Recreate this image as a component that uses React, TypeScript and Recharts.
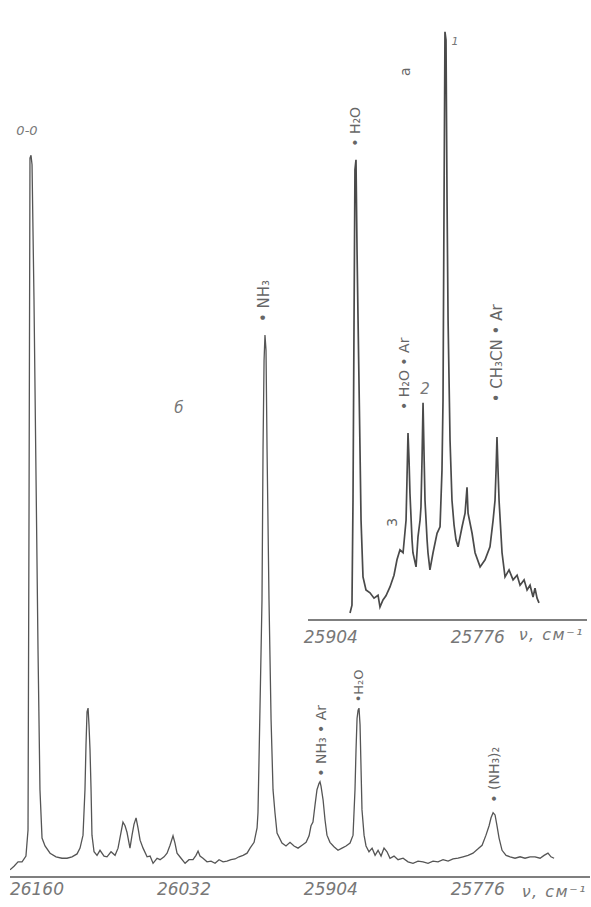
import React from 'react'
import { LineChart, Line, XAxis, YAxis, ReferenceDot, Label } from 'recharts'

// main spectrum (б): wavenumber, cm-1 and relative intensity
const MAIN_WAVENUMBER = [
  26183.5, 26180.0, 26176.5, 26173.0, 26169.6, 26167.8, 26166.9, 26166.1, 26165.2, 26164.3,
  26162.6, 26160.8, 26159.1, 26157.4, 26155.6, 26153.0, 26148.6, 26143.4, 26138.2, 26133.8,
  26129.5, 26125.1, 26122.5, 26119.9, 26118.2, 26117.3, 26116.4, 26115.5, 26114.7, 26113.8,
  26112.9, 26112.1, 26110.3, 26107.7, 26105.1, 26101.6, 26099.0, 26095.5, 26092.0, 26089.4,
  26086.8, 26085.1, 26083.3, 26081.6, 26079.0, 26077.2, 26075.5, 26073.7, 26072.0, 26070.2,
  26067.6, 26064.1, 26061.5, 26058.9, 26055.4, 26052.8, 26049.3, 26046.7, 26044.1, 26041.5,
  26039.8, 26038.0, 26034.5, 26031.0, 26027.6, 26024.1, 26021.5, 26019.7, 26018.0, 26015.4,
  26011.9, 26008.4, 26004.9, 26001.4, 25997.9, 25994.5, 25991.0, 25987.5, 25984.0, 25980.5,
  25977.0, 25974.4, 25970.9, 25968.3, 25967.5, 25966.6, 25964.8, 25964.0, 25963.1, 25962.2,
  25961.4, 25960.5, 25959.6, 25957.9, 25956.1, 25954.4, 25952.7, 25950.9, 25946.6, 25943.1,
  25939.6, 25936.1, 25932.6, 25929.1, 25925.6, 25923.0, 25921.3, 25919.6, 25917.8, 25916.1,
  25914.3, 25913.5, 25912.6, 25910.8, 25909.1, 25907.4, 25904.8, 25901.3, 25897.8, 25894.3,
  25890.8, 25887.3, 25884.7, 25883.0, 25882.1, 25881.2, 25880.3, 25879.5, 25878.6, 25877.7,
  25876.9, 25875.1, 25873.4, 25870.8, 25868.1, 25865.5, 25862.9, 25860.3, 25857.7, 25855.1,
  25852.5, 25849.0, 25845.5, 25841.1, 25836.8, 25832.5, 25828.1, 25823.7, 25819.4, 25815.0,
  25810.7, 25806.3, 25801.9, 25797.6, 25793.2, 25788.9, 25784.5, 25780.2, 25775.8, 25772.3,
  25768.9, 25766.2, 25764.5, 25762.7, 25761.0, 25759.3, 25757.5, 25754.9, 25751.4, 25747.9,
  25743.6, 25739.2, 25734.9, 25730.5, 25726.2, 25721.8, 25718.3, 25714.9, 25712.3, 25709.6,
]
const MAIN_INTENSITY = [
  1.0, 1.5, 2.1, 2.1, 2.9, 6.5, 52.2, 99.6, 100.0, 98.7,
  80.0, 55.0, 31.5, 12.1, 5.4, 4.3, 3.3, 2.8, 2.6, 2.6,
  2.8, 3.2, 4.0, 5.8, 12.1, 18.3, 22.9, 23.4, 21.1, 17.6,
  12.1, 5.8, 3.5, 3.0, 3.7, 2.9, 2.8, 3.5, 3.0, 4.0,
  6.2, 7.6, 7.1, 6.2, 4.0, 5.8, 7.3, 8.2, 6.8, 5.1,
  4.0, 2.8, 2.9, 1.9, 2.6, 2.4, 2.8, 3.3, 4.4, 5.7,
  4.7, 3.3, 2.6, 1.9, 2.4, 2.4, 3.0, 3.6, 2.9, 2.6,
  2.1, 2.2, 1.9, 2.4, 2.1, 2.2, 2.4, 2.5, 2.8, 3.0,
  3.3, 4.0, 4.8, 6.8, 8.9, 16.2, 31.5, 38.4, 59.2, 71.6,
  75.1, 73.0, 59.2, 38.4, 21.8, 12.1, 8.9, 6.1, 4.7, 4.3,
  4.8, 4.3, 4.0, 4.4, 4.8, 5.7, 7.1, 7.6, 10.0, 12.1,
  13.0, 13.2, 12.6, 10.7, 7.9, 5.8, 4.8, 4.2, 3.7, 4.0,
  4.3, 4.7, 5.8, 12.1, 17.6, 22.0, 23.1, 23.4, 21.1, 14.8,
  9.3, 5.8, 4.3, 3.5, 4.0, 3.0, 3.7, 2.9, 4.0, 3.5,
  2.6, 2.9, 2.4, 2.6, 2.1, 1.9, 2.2, 2.1, 1.9, 2.2,
  2.1, 2.4, 2.2, 2.5, 2.6, 2.8, 3.0, 3.3, 3.9, 4.4,
  5.8, 7.1, 8.2, 8.9, 8.6, 7.1, 5.4, 3.7, 3.0, 2.8,
  2.6, 2.8, 2.6, 2.8, 2.8, 2.6, 3.0, 3.3, 2.8, 2.6,
]

// inset spectrum (а)
const INSET_WAVENUMBER = [
  25887.3, 25885.6, 25884.7, 25883.8, 25883.0, 25882.1, 25881.2, 25880.3, 25878.6, 25877.7,
  25876.0, 25873.4, 25869.9, 25866.4, 25862.9, 25861.2, 25858.6, 25856.0, 25852.5, 25849.0,
  25846.4, 25843.8, 25841.1, 25838.5, 25837.7, 25836.8, 25835.9, 25835.1, 25833.3, 25832.5,
  25829.8, 25828.1, 25826.3, 25825.5, 25824.6, 25823.7, 25822.9, 25822.0, 25820.2, 25819.4,
  25817.7, 25815.0, 25811.5, 25808.9, 25807.2, 25806.3, 25805.4, 25804.6, 25803.7, 25802.8,
  25801.9, 25800.2, 25798.5, 25796.7, 25795.0, 25793.2, 25789.7, 25787.1, 25785.4, 25784.5,
  25781.0, 25778.4, 25774.0, 25769.7, 25765.4, 25762.7, 25761.0, 25760.1, 25759.3, 25758.4,
  25757.5, 25754.9, 25752.3, 25748.8, 25745.3, 25741.8, 25739.2, 25735.7, 25733.1, 25730.5,
  25727.9, 25726.2, 25724.4, 25722.7,
]
const INSET_INTENSITY = [
  1.2, 2.5, 20.3, 50.8, 76.3, 78.0, 62.7, 50.8, 28.8, 16.9,
  7.3, 5.1, 4.6, 3.7, 4.2, 2.2, 3.4, 4.1, 5.6, 7.6,
  10.2, 11.9, 11.4, 16.9, 23.7, 31.7, 27.1, 21.5, 13.6, 11.4,
  9.0, 14.1, 16.9, 19.2, 27.1, 36.8, 28.8, 20.3, 13.6, 11.4,
  8.5, 11.4, 14.7, 15.8, 25.4, 37.3, 71.2, 99.7, 98.3, 71.2,
  50.8, 30.5, 20.3, 16.1, 13.6, 12.4, 15.8, 18.1, 22.5, 18.1,
  14.7, 11.4, 9.0, 10.2, 12.4, 16.9, 20.3, 25.4, 31.0, 25.4,
  20.3, 11.4, 7.3, 8.5, 6.8, 7.6, 5.9, 6.8, 5.1, 5.9,
  3.9, 5.4, 3.7, 2.9,
]

const MAIN_TICKS = [26160, 26032, 25904, 25776]
const INSET_TICKS = [25904, 25776]

// band labels: where they sit (wavenumber, level) and their text
const MAIN_NOTES = [
  { wn: 26168.7, level: 103.4, text: '0-0', vertical: false, size: 13 },
  { wn: 26036.3, level: 65.0, text: 'б', vertical: false, size: 15 },
  { wn: 25962.2, level: 76.9, text: '• NH₃', vertical: true, size: 15 },
  { wn: 25912.6, level: 13.9, text: '• NH₃ • Ar', vertical: true, size: 14 },
  { wn: 25879.5, level: 24.2, text: '•H₂O', vertical: true, size: 13 },
  { wn: 25761.9, level: 10.3, text: '• (NH₃)₂', vertical: true, size: 14 },
]
const INSET_NOTES = [
  { wn: 25883.0, level: 80.2, text: '• H₂O', vertical: true, size: 14 },
  { wn: 25839.4, level: 92.2, text: 'а', vertical: true, size: 14 },
  { wn: 25795.8, level: 98.0, text: '1', vertical: false, size: 11 },
  { wn: 25840.3, level: 35.6, text: '• H₂O • Ar', vertical: true, size: 14 },
  { wn: 25822.0, level: 39.2, text: '2', vertical: false, size: 15 },
  { wn: 25850.7, level: 15.8, text: '3', vertical: true, size: 14 },
  { wn: 25759.3, level: 36.9, text: '• CH₃CN • Ar', vertical: true, size: 15 },
]

const INK = '#555'
const FONT = '"DejaVu Sans", sans-serif'

const mainData = MAIN_WAVENUMBER.map((wn, i) => ({ wn, v: MAIN_INTENSITY[i] }))
const insetData = INSET_WAVENUMBER.map((wn, i) => ({ wn, v: INSET_INTENSITY[i] }))

type Note = { wn: number; level: number; text: string; vertical: boolean; size: number }

const noteLabel = (n: Note) => (props: any) => {
  const vb = props.viewBox || {}
  const x = vb.x + (vb.width || 0) / 2
  const y = vb.y + (vb.height || 0) / 2
  if (n.vertical) {
    return (
      <text
        x={x}
        y={y}
        transform={`rotate(-90 ${x} ${y})`}
        textAnchor="start"
        dominantBaseline="central"
        fontSize={n.size}
        fontFamily={FONT}
        fill="#666"
      >
        {n.text}
      </text>
    )
  }
  return (
    <text x={x} y={y} textAnchor="middle" dominantBaseline="central" fontSize={n.size} fontFamily={FONT} fontStyle="italic" fill="#777">
      {n.text}
    </text>
  )
}

const unitLabel = (props: any) => {
  const vb = props.viewBox || {}
  return (
    <text
      x={vb.x + vb.width - 3}
      y={vb.y + 20}
      textAnchor="end"
      fontSize={16}
      fontFamily={FONT}
      fontStyle="italic"
      fill="#777"
      letterSpacing={1.5}
    >
      ν, см⁻¹
    </text>
  )
}

const tickStyle = { fontSize: 17, fill: '#777', fontStyle: 'italic', fontFamily: FONT }

export default function App() {
  return (
    <div style={{ position: 'absolute', left: 0, top: 0, width: 591, height: 907, background: '#fff' }}>
      <div style={{ position: 'absolute', left: 0, top: 0 }}>
        <LineChart width={591} height={907} data={mainData} margin={{ top: 11, right: 1, bottom: 0, left: 10 }}>
          <XAxis
            dataKey="wn"
            type="number"
            reversed
            domain={[25678.3, 26183.5]}
            allowDataOverflow
            ticks={MAIN_TICKS}
            tickLine={false}
            tickSize={4}
            tickMargin={2}
            height={30}
            axisLine={{ stroke: INK, strokeWidth: 1.6 }}
            tick={tickStyle}
          >
            <Label content={unitLabel} />
          </XAxis>
          <YAxis hide domain={[0, 120]} allowDataOverflow />
          <Line type="linear" dataKey="v" stroke={INK} strokeWidth={1.3} dot={false} isAnimationActive={false} />
          {MAIN_NOTES.map((n) => (
            <ReferenceDot key={n.text} x={n.wn} y={n.level} r={1} fill="none" stroke="none" ifOverflow="visible" label={noteLabel(n)} />
          ))}
        </LineChart>
      </div>
      <div style={{ position: 'absolute', left: 300, top: 0 }}>
        <LineChart width={291} height={650} data={insetData} margin={{ top: 30, right: 4, bottom: 0, left: 8 }}>
          <XAxis
            dataKey="wn"
            type="number"
            reversed
            domain={[25680.9, 25923.9]}
            allowDataOverflow
            ticks={INSET_TICKS}
            tickLine={false}
            tickSize={8}
            tickMargin={3}
            height={30}
            axisLine={{ stroke: INK, strokeWidth: 1.6 }}
            tick={tickStyle}
          >
            <Label content={unitLabel} />
          </XAxis>
          <YAxis hide domain={[0, 100]} allowDataOverflow />
          <Line type="linear" dataKey="v" stroke="#4a4a4a" strokeWidth={1.7} dot={false} isAnimationActive={false} />
          {INSET_NOTES.map((n) => (
            <ReferenceDot key={n.text} x={n.wn} y={n.level} r={1} fill="none" stroke="none" ifOverflow="visible" label={noteLabel(n)} />
          ))}
        </LineChart>
      </div>
    </div>
  )
}
